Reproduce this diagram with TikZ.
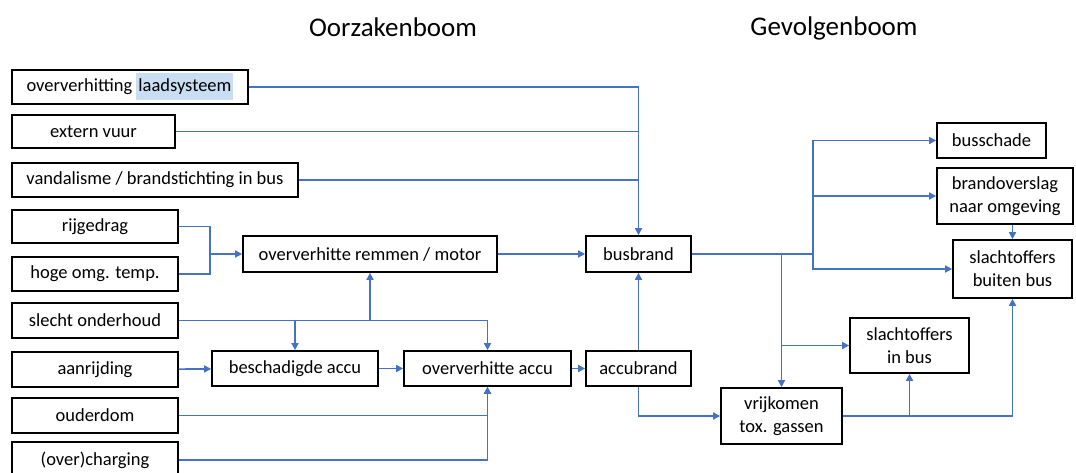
\documentclass[tikz,border=0pt]{standalone}
\usepackage{fontspec}
\setmainfont{Carlito}
\usetikzlibrary{positioning,arrows.meta,calc}
\definecolor{ftblue}{HTML}{4472C4}
\definecolor{ftmark}{HTML}{C9DDF3}
\setlength{\fboxsep}{2pt}

\begin{document}
\begin{tikzpicture}[x=1pt, y=-1pt,
      font=\fontsize{18.5}{23}\selectfont,
      box/.style={draw=black, line width=1.7pt, align=center, inner sep=0pt},
      sz/.style 2 args={minimum width=#1pt, minimum height=#2pt},
      flow/.style={draw=ftblue, line width=1.6pt},
      arr/.style={flow, -{Triangle[length=7pt,width=7pt]}},
      head/.style={font=\fontsize{27}{30}\selectfont}
    ]
    \useasboundingbox (0,0) rectangle (1076,473);

    % titles
    \node[head] (toorz) at (393,27) {Oorzakenboom};
    \node[head] (tgevo) at (834,28) {Gevolgenboom};

    % causes
    \node[box, sz={236}{34}] (laad) at (130,87) {oververhitting \colorbox{ftmark}{\strut laadsysteem}};
    \node[box, sz={163}{33}] (vuur) at (93.5,131.5) {extern vuur};
    \node[box, sz={286}{34}] (vandal) at (155,180) {vandalisme / brandstichting in bus};
    \node[box, sz={166}{33}] (rij) at (95,226.5) {rijgedrag};
    \node[box, sz={166}{34}] (hoge) at (95,274) {hoge omg. temp.};
    \node[box, sz={166}{35}] (slecht) at (95,320.5) {slecht onderhoud};
    \node[box, sz={166}{35}] (aanr) at (95,369.5) {aanrijding};
    \node[box, sz={166}{35}] (oud) at (95,415.5) {ouderdom};
    \node[box, sz={166}{36}] (charg) at (95,460) {(over)charging};

    \node[box, sz={254}{36}] (remmen) at (370,254) {oververhitte remmen / motor};
    \node[box, sz={105}{36}] (busbrand) at (638.5,254) {busbrand};
    \node[box, sz={166}{35}] (besch) at (295,368.5) {beschadigde accu};
    \node[box, sz={167}{35}] (ovaccu) at (487.5,368.5) {oververhitte accu};
    \node[box, sz={105}{35}] (accub) at (638.5,368.5) {accubrand};

    % effects
    \node[box, sz={121}{56}] (vrijk) at (781.5,416) {vrijkomen\\tox. gassen};
    \node[box, sz={119}{55}] (slinbus) at (909.5,345.5) {slachtoffers\\in bus};
    \node[box, sz={109}{35}] (busschade) at (991.5,140.5) {busschade};
    \node[box, sz={136}{56}] (overslag) at (1005,196) {brandoverslag\\naar omgeving};
    \node[box, sz={119}{58}] (slbuiten) at (1012.5,269) {slachtoffers\\buiten bus};

    \coordinate (jrem) at (210,254);
    \coordinate (jgev) at (813,254);

    % cause links
    \draw[arr] (laad.east) -| (busbrand.north);
    \draw[flow] (vuur.east) -- (vuur.east -| busbrand.north);
    \draw[flow] (vandal.east) -- (vandal.east -| busbrand.north);
    \draw[flow] (rij.east) -| (jrem);
    \draw[flow] (hoge.east) -| (jrem);
    \draw[arr] (jrem) -- (remmen.west);
    \draw[arr] (remmen) -- (busbrand);
    \draw[arr] (slecht.east) -| (ovaccu.north);
    \draw[arr] (slecht.east -| remmen.south) -- (remmen.south);
    \draw[arr] (slecht.east -| besch.north) -- (besch.north);
    \draw[arr] (aanr) -- (besch);
    \draw[arr] (besch) -- (ovaccu);
    \draw[arr] (ovaccu) -- (accub);
    \draw[arr] (accub) -- (busbrand);
    \draw[arr] (oud.east) -| (ovaccu.south);
    \draw[arr] (charg.east) -| (ovaccu.south);
    \draw[arr] (accub.south) |- (vrijk.west);

    % effect links
    \draw[flow] (busbrand.east) -- (jgev);
    \draw[arr] (jgev) |- (busschade.west);
    \draw[arr] (jgev) |- (overslag.west);
    \draw[arr] (jgev) |- (slbuiten.west);
    \draw[arr] (busbrand.east -| vrijk.north) -- (vrijk.north);
    \draw[arr] (vrijk.north |- slinbus.west) -- (slinbus.west);
    \draw[arr] (vrijk.east) -| (slbuiten.south);
    \draw[arr] (vrijk.east -| slinbus.south) -- (slinbus.south);
    \draw[arr] (overslag.south -| slbuiten.north) -- (slbuiten.north);
\end{tikzpicture}
\end{document}
